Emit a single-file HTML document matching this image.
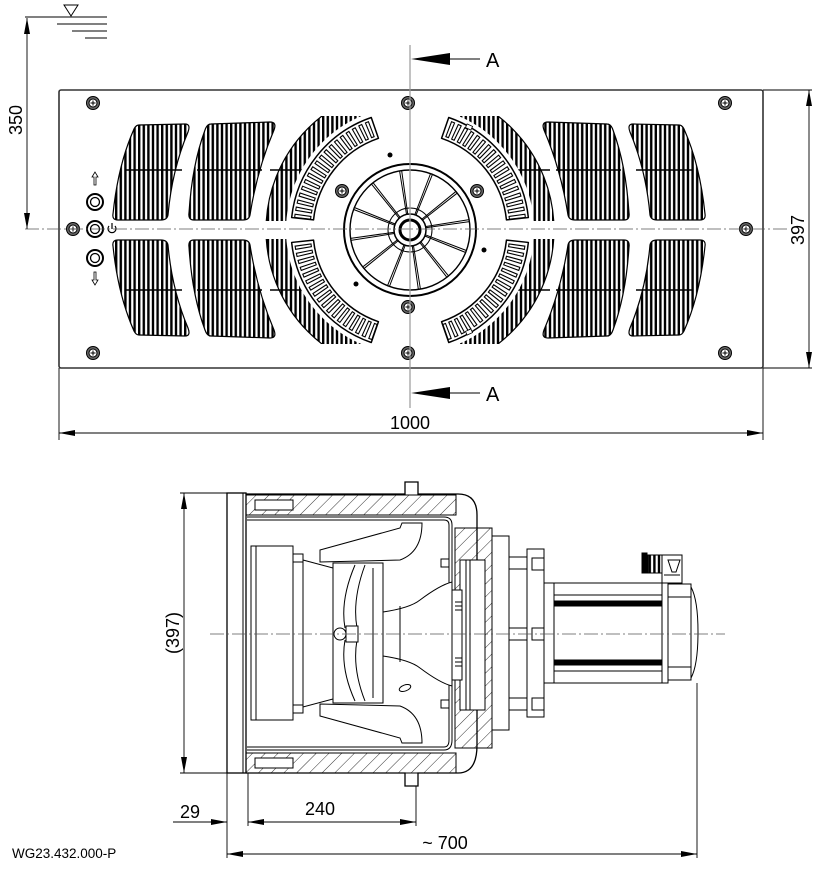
<!DOCTYPE html>
<html><head><meta charset="utf-8"><style>
html,body{margin:0;padding:0;background:#fff}
svg{display:block}
text{font-family:"Liberation Sans",sans-serif;fill:#000}
</style></head><body>
<svg id="s" width="837" height="870" viewBox="0 0 837 870" xmlns="http://www.w3.org/2000/svg">
<defs>
<pattern id="vs" width="4.6" height="10" patternUnits="userSpaceOnUse"><rect x="0" y="0" width="2.4" height="10" fill="#000"/></pattern>
<pattern id="hatch" width="9" height="9" patternUnits="userSpaceOnUse" patternTransform="rotate(45)"><line x1="0" y1="0" x2="0" y2="9" stroke="#000" stroke-width="0.8"/></pattern>
<clipPath id="c3"><rect x="258" y="116" width="122" height="105"/></clipPath>
<clipPath id="c3b"><rect x="258" y="239" width="122" height="105"/></clipPath>
<clipPath id="c3r"><rect x="438" y="116" width="122" height="105"/></clipPath>
<clipPath id="c3rb"><rect x="438" y="239" width="122" height="105"/></clipPath>
<g id="g1"><path d="M139,125 L185,124 Q191,124 188,132 Q172,170 168,215 Q167,220 161,220 L118,220 Q112,220 113,214 Q118,165 134,129 Q136,125 139,125 Z" fill="url(#vs)" stroke="#000" stroke-width="1.2"/><line x1="125" y1="170" x2="182" y2="170" stroke="#000" stroke-width="1.5"/></g>
<g id="g2"><path d="M211,124 L270,122 Q277,122 274,130 Q257,170 250,215 Q249,220 243,220 L194,220 Q188,220 189,213 Q192,165 205,130 Q207,124 211,124 Z" fill="url(#vs)" stroke="#000" stroke-width="1.2"/><line x1="197" y1="170" x2="262" y2="170" stroke="#000" stroke-width="1.5"/></g>
</defs>
<rect width="837" height="870" fill="#fff"/>

<rect x="59" y="90" width="704" height="278" fill="#fff" stroke="#333" stroke-width="1.6" rx="2"/>
<g id="grilles">
<use href="#g1"/><use href="#g2"/>
<use href="#g1" transform="matrix(1 0 0 -1 0 460)"/><use href="#g2" transform="matrix(1 0 0 -1 0 460)"/>
<use href="#g1" transform="matrix(-1 0 0 1 818 0)"/><use href="#g2" transform="matrix(-1 0 0 1 818 0)"/>
<use href="#g1" transform="matrix(-1 0 0 -1 818 460)"/><use href="#g2" transform="matrix(-1 0 0 -1 818 460)"/>
<circle cx="410" cy="230" r="144" fill="url(#vs)" stroke="#000" stroke-width="1.2" clip-path="url(#c3)"/>
<circle cx="410" cy="230" r="144" fill="url(#vs)" stroke="#000" stroke-width="1.2" clip-path="url(#c3b)"/>
<circle cx="410" cy="230" r="144" fill="url(#vs)" stroke="#000" stroke-width="1.2" clip-path="url(#c3r)"/>
<circle cx="410" cy="230" r="144" fill="url(#vs)" stroke="#000" stroke-width="1.2" clip-path="url(#c3rb)"/>
<line x1="270" y1="170" x2="330" y2="170" stroke="#000" stroke-width="1.5"/>
<line x1="270" y1="290" x2="330" y2="290" stroke="#000" stroke-width="1.5"/>
<line x1="490" y1="170" x2="550" y2="170" stroke="#000" stroke-width="1.5"/>
<line x1="490" y1="290" x2="550" y2="290" stroke="#000" stroke-width="1.5"/>
<circle cx="410" cy="230" r="124" fill="#fff"/>
</g>
<g id="bands"></g>
<circle cx="410" cy="230" r="66" fill="#fff" stroke="#000" stroke-width="2"/>
<circle cx="410" cy="230" r="60" fill="none" stroke="#000" stroke-width="1.4"/>
<g id="spokes"></g>
<circle cx="410" cy="230" r="22" fill="none" stroke="#000" stroke-width="1"/>
<circle cx="410" cy="230" r="16" fill="#fff" stroke="#000" stroke-width="1.5"/>
<circle cx="410" cy="230" r="10" fill="#fff" stroke="#000" stroke-width="3"/>
<g id="screws"></g>
<g fill="#000"><circle cx="390" cy="155" r="2.5"/><circle cx="484" cy="250" r="2.5"/><circle cx="356" cy="284" r="2.5"/></g>
<g fill="#fff" stroke="#000">
<circle cx="95" cy="202" r="8" stroke-width="2"/><circle cx="95" cy="202" r="4.5" stroke-width="1.3"/>
<circle cx="95" cy="229" r="8" stroke-width="2"/><circle cx="95" cy="229" r="4.5" stroke-width="1.3"/>
<circle cx="95" cy="258" r="8" stroke-width="2"/><circle cx="95" cy="258" r="4.5" stroke-width="1.3"/>
</g>
<path d="M95,172 L92,177 L94,177 L94,185 L96,185 L96,177 L98,177 Z" fill="#fff" stroke="#000" stroke-width="0.8"/>
<path d="M95,285 L92,280 L94,280 L94,272 L96,272 L96,280 L98,280 Z" fill="#fff" stroke="#000" stroke-width="0.8"/>
<path d="M109,226 A4,4 0 1 0 115,226" fill="none" stroke="#000" stroke-width="1.2"/><line x1="112" y1="223" x2="112" y2="229" stroke="#000" stroke-width="1.2"/>

<line x1="25" y1="229" x2="790" y2="229" stroke="#555" stroke-width="0.8" stroke-dasharray="14,3,2,3"/>
<line x1="410" y1="45" x2="410" y2="408" stroke="#999" stroke-width="1.2"/>
<polygon points="411,59 450,53 450,65" fill="#000"/><line x1="450" y1="59" x2="480" y2="59" stroke="#000"/>
<text x="486" y="67" font-size="20">A</text>
<polygon points="411,393 450,387 450,399" fill="#000"/><line x1="450" y1="393" x2="480" y2="393" stroke="#000"/>
<text x="486" y="401" font-size="20">A</text>

<g stroke="#000" stroke-width="0.9">
<line x1="25" y1="17" x2="107" y2="17"/>
<line x1="57" y1="24" x2="107" y2="24"/><line x1="72" y1="31" x2="107" y2="31"/><line x1="85" y1="38" x2="107" y2="38"/>
<line x1="27" y1="18" x2="27" y2="229"/>
<line x1="763" y1="90" x2="812" y2="90"/><line x1="763" y1="368" x2="812" y2="368"/>
<line x1="809" y1="90" x2="809" y2="368"/>
<line x1="59" y1="368" x2="59" y2="440"/><line x1="763" y1="368" x2="763" y2="440"/>
<line x1="59" y1="433" x2="763" y2="433"/>
</g>
<polygon points="64,5 78,5 71,16" fill="#fff" stroke="#000" stroke-width="1"/>
<polygon points="27,18 24,34 30,34" fill="#000"/><polygon points="27,229 24,213 30,213" fill="#000"/>
<polygon points="809,90 806,106 812,106" fill="#000"/><polygon points="809,368 806,352 812,352" fill="#000"/>
<polygon points="59,433 75,430 75,436" fill="#000"/><polygon points="763,433 747,430 747,436" fill="#000"/>
<text font-size="18" transform="translate(22,120) rotate(-90)" text-anchor="middle">350</text>
<text font-size="18" transform="translate(804,230) rotate(-90)" text-anchor="middle">397</text>
<text x="410" y="429" font-size="18" text-anchor="middle">1000</text>

<g fill="none" stroke="#000" stroke-width="1">
<path d="M246,494 L405,494 L405,482 L418,482 L418,494 L458,494 Q477,494 477,515 L477,745 Q477,773 458,773 L418,773 L418,786 L405,786 L405,773 L246,773" fill="#fff" stroke-width="1.3"/>
<rect x="246" y="495" width="210" height="20" fill="url(#hatch)"/>
<rect x="246" y="753" width="210" height="20" fill="url(#hatch)"/>
<rect x="255" y="500" width="38" height="10" fill="#fff"/>
<rect x="255" y="758" width="38" height="10" fill="#fff"/>
<path d="M247,517 L444,517 Q452,517 452,525 L452,740 Q452,750 444,750 L247,750"/>
<path d="M247,520 L444,520 Q449,520 449,525 L449,740 Q449,747 444,747 L247,747"/>
<rect x="227" y="493" width="19" height="280" fill="#fff" stroke-width="1.3"/>
<line x1="243" y1="493" x2="243" y2="773"/>
<rect x="251" y="546" width="42" height="174" fill="#fff"/>
<line x1="256" y1="546" x2="256" y2="720"/>
<rect x="293" y="554" width="10" height="8"/><rect x="293" y="705" width="10" height="8"/>
<path d="M303,560 L333,568 L333,699 L303,707 Z"/>
<line x1="303" y1="560" x2="303" y2="707"/>
<rect x="333" y="563" width="50" height="140"/>
<path d="M355,565 Q340,600 345,628 M355,701 Q340,668 345,640 M365,565 Q352,600 357,628 M365,701 Q352,668 357,640 M373,568 L373,698"/>
<path d="M320,550 L400,528 L402,523 L422,523 Q422,552 400,560 L320,562 Z" fill="#fff"/>
<path d="M320,716 L400,738 L402,743 L422,743 Q422,714 400,706 L320,704 Z" fill="#fff"/>
<circle cx="340" cy="634" r="6" fill="#fff"/><rect x="346" y="626" width="12" height="16" fill="#fff"/>
<path d="M383,612 Q410,608 420,600 Q440,585 452,582 L452,686 Q440,683 420,668 Q410,660 383,656 Z" fill="#fff"/>
<line x1="383" y1="612" x2="383" y2="656"/><line x1="400" y1="606" x2="400" y2="662"/>
<ellipse cx="405" cy="688" rx="6" ry="3" transform="rotate(-20 405 688)"/>
<rect x="441" y="559" width="8" height="8"/><rect x="441" y="700" width="8" height="8"/>
<path d="M455,528 L492,528 L492,748 L455,748 Z" fill="url(#hatch)"/>
<rect x="460" y="560" width="25" height="150" fill="#fff"/>
<path d="M452,590 L462,590 L462,680 L452,680 Z" fill="#fff"/>
<line x1="466" y1="560" x2="466" y2="710"/><line x1="470" y1="560" x2="470" y2="710"/>
<path d="M455,602 L462,602 M455,606 L462,606 M455,610 L462,610 M455,658 L462,658 M455,662 L462,662 M455,666 L462,666"/>
<rect x="492" y="536" width="17" height="194" fill="#fff"/>
<rect x="509" y="557" width="18" height="12"/><rect x="509" y="698" width="18" height="12"/><rect x="509" y="628" width="18" height="12"/>
<rect x="527" y="549" width="17" height="168" fill="#fff"/>
<rect x="532" y="558" width="12" height="12"/><rect x="532" y="628" width="12" height="12"/><rect x="532" y="698" width="12" height="12"/>
<rect x="544" y="583" width="10" height="100" fill="#fff"/>
<rect x="554" y="583" width="108" height="100" fill="#fff"/>
<rect x="554" y="601" width="108" height="5" fill="#000"/><rect x="554" y="660" width="108" height="5" fill="#000"/>
<line x1="554" y1="595" x2="662" y2="595"/><line x1="554" y1="671" x2="662" y2="671"/>
<rect x="662" y="583" width="6" height="100" fill="#fff"/>
<rect x="668" y="584" width="23" height="96" fill="#fff"/>
<path d="M691,587 Q698,600 698,632 Q698,665 691,678"/>
<line x1="668" y1="597" x2="691" y2="597"/><line x1="668" y1="667" x2="691" y2="667"/>
<rect x="662" y="555" width="20" height="28" fill="#fff"/>
<rect x="642" y="553" width="5" height="20" fill="#000"/><rect x="648" y="555" width="14" height="18" fill="url(#vs)"/>
<path d="M668,560 L680,560 L676,572 L672,572 Z M664,575 L680,575"/>
</g>
<line x1="210" y1="634" x2="725" y2="634" stroke="#555" stroke-width="0.8" stroke-dasharray="14,3,2,3"/>

<g stroke="#000" stroke-width="0.9">
<line x1="184" y1="493" x2="184" y2="773"/>
<line x1="180" y1="493" x2="227" y2="493"/><line x1="180" y1="773" x2="227" y2="773"/>
<line x1="227" y1="773" x2="227" y2="858"/><line x1="248" y1="773" x2="248" y2="826"/>
<line x1="416" y1="786" x2="416" y2="826"/><line x1="697" y1="683" x2="697" y2="858"/>
<line x1="173" y1="822" x2="227" y2="822"/><line x1="248" y1="822" x2="416" y2="822"/>
<line x1="227" y1="854" x2="697" y2="854"/>
</g>
<polygon points="184,493 181,509 187,509" fill="#000"/><polygon points="184,773 181,757 187,757" fill="#000"/>
<polygon points="227,822 211,819 211,825" fill="#000"/><polygon points="248,822 264,819 264,825" fill="#000"/>
<polygon points="416,822 400,819 400,825" fill="#000"/>
<polygon points="227,854 243,851 243,857" fill="#000"/><polygon points="697,854 681,851 681,857" fill="#000"/>
<text font-size="18" transform="translate(179,633) rotate(-90)" text-anchor="middle">(397)</text>
<text x="190" y="818" font-size="18" text-anchor="middle">29</text>
<text x="320" y="815" font-size="18" text-anchor="middle">240</text>
<text x="445" y="849" font-size="18" text-anchor="middle">~ 700</text>
<text x="12" y="858" font-size="13.5">WG23.432.000-P</text>
</svg>
<script>
var NS="http://www.w3.org/2000/svg";
function el(p,n,a){var e=document.createElementNS(NS,n);for(var k in a)e.setAttribute(k,a[k]);p.appendChild(e);return e;}
var cx=410,cy=230;
function P(r,d){var a=d*Math.PI/180;return [cx+r*Math.cos(a),cy-r*Math.sin(a)];}
var B=document.getElementById('bands');
function band(a0,a1){
 var r0=97,r1=119,p1=P(r1,a0),p2=P(r1,a1),p3=P(r0,a1),p4=P(r0,a0);
 var sw=(a1-a0)>0?0:1;
 el(B,'path',{d:'M'+p1+' A'+r1+','+r1+' 0 0 '+sw+' '+p2+' L'+p3+' A'+r0+','+r0+' 0 0 '+(1-sw)+' '+p4+' Z',fill:'#fff',stroke:'#000','stroke-width':1.5,'stroke-linejoin':'round'});
 var s=a0<a1?1:-1;
 for(var a=a0+s*2;s*(a1-a)>1.5;a+=s*3.6){
  var q=P(100,a),w=P(116,a),q2=P(100,a+s*1.6),w2=P(116,a+s*1.6);
  el(B,'path',{d:'M'+q+' L'+w+' L'+w2+' L'+q2+' Z',fill:'none',stroke:'#000','stroke-width':1.1});
 }
}
band(109,174);band(186,251);band(71,6);band(-6,-71);
var S=document.getElementById('spokes');
for(var i=0;i<12;i++){var a=i*30+8;
 var u=P(14,a),v=P(60,a),u2=P(14,a+5),v2=P(60,a+2);
 el(S,'line',{x1:u[0],y1:u[1],x2:v[0],y2:v[1],stroke:'#000','stroke-width':1});
 el(S,'line',{x1:u2[0],y1:u2[1],x2:v2[0],y2:v2[1],stroke:'#000','stroke-width':1});}
var SC=document.getElementById('screws');
[[93,103],[408,103],[725,103],[93,353],[408,353],[725,353],[73,229],[746,229],[342,191],[477,191],[408,307]].forEach(function(p){
 el(SC,'circle',{cx:p[0],cy:p[1],r:6.5,fill:'#666',stroke:'#000','stroke-width':1});
 el(SC,'circle',{cx:p[0],cy:p[1],r:4,fill:'#fff',stroke:'#000','stroke-width':1});
 el(SC,'path',{d:'M'+(p[0]-2.5)+','+p[1]+' h5 M'+p[0]+','+(p[1]-2.5)+' v5',stroke:'#000','stroke-width':1});
});
el(B,'rect',{x:466,y:125,width:6,height:4,fill:'#fff',stroke:'#000','stroke-width':0.8,transform:'rotate(25 469 127)'});
el(B,'rect',{x:466,y:330,width:6,height:4,fill:'#fff',stroke:'#000','stroke-width':0.8,transform:'rotate(-25 469 332)'});
</script>
</body></html>
